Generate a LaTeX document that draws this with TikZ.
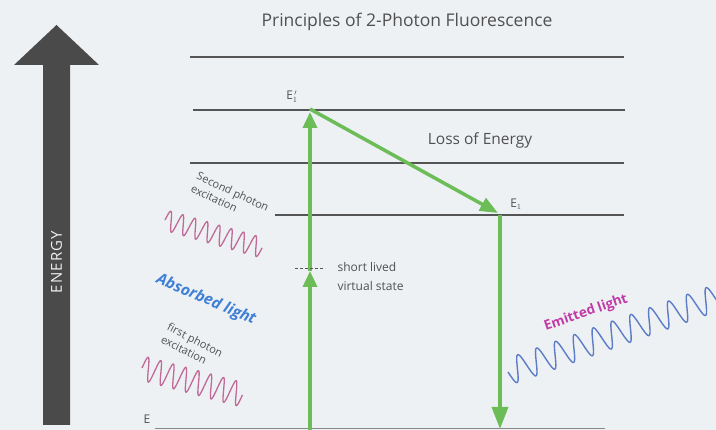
\documentclass[tikz,border=0pt]{standalone}
\usepackage{fontspec}
\setmainfont{Open Sans}
\usetikzlibrary{arrows.meta}
\definecolor{bg}{HTML}{EEF1F4}
\definecolor{arrowgray}{HTML}{4A4A4A}
\definecolor{lvl}{HTML}{555555}
\definecolor{grn}{RGB}{108,189,88}
\definecolor{pinkw}{HTML}{C06A98}
\definecolor{bluew}{HTML}{5C7CC8}
\definecolor{absblue}{HTML}{3F7FD6}
\definecolor{emitmag}{HTML}{C23AA6}
\definecolor{txtgray}{HTML}{505050}
\begin{document}
\begin{tikzpicture}[x=1pt,y=1pt,
  level/.style={draw=lvl, line width=1.4pt},
  gline/.style={draw=grn, line width=3.5pt},
  headA/.style={-{Triangle[length=16pt,width=14pt]}},
  headB/.style={-{Triangle[length=22pt,width=16pt]}},
  wavepink/.style={draw=pinkw, line width=1.3pt},
  waveblue/.style={draw=bluew, line width=1.4pt},
  small/.style={text=txtgray, font=\fontsize{11}{14}\selectfont, align=left, inner sep=1pt},
  lbl/.style={text=txtgray, font=\fontsize{12}{12}\selectfont, inner sep=0pt}
]
\useasboundingbox (0,0) rectangle (716,430);
\fill[bg] (0,0) rectangle (716,430);
\clip (0,0) rectangle (716,430);

% energy arrow
\fill[arrowgray] (43,5) -- (70,5) -- (70,365) -- (99,365) -- (56.5,405) -- (14,365) -- (43,365) -- cycle;
\node[rotate=90, text=white!88!gray, font=\fontsize{15}{15}\selectfont\addfontfeatures{LetterSpace=8}] (energy) at (56.5,168) {ENERGY};

% title
\node[text=txtgray, font=\fontsize{17.5}{18}\selectfont] (title) at (407,408) {Principles of 2-Photon Fluorescence};

% levels
\coordinate (l1a) at (190,373); \coordinate (l1b) at (624,373);
\coordinate (l2a) at (193,320); \coordinate (l2b) at (625,320);
\coordinate (l3a) at (190,267); \coordinate (l3b) at (624,267);
\coordinate (l4a) at (275,215); \coordinate (l4b) at (624,215);
\coordinate (l0a) at (155,1);   \coordinate (l0b) at (605,1);
\draw[level] (l1a) -- (l1b);
\draw[level] (l2a) -- (l2b);
\draw[level] (l3a) -- (l3b);
\draw[level] (l4a) -- (l4b);
\draw[level, line width=1pt, draw=lvl!70] (l0a) -- (l0b);

% labels
\node[lbl] (e1p) at (292,333) {E$_1^{\,\prime}$};
\node[lbl] (e1) at (516,226) {E$_1$};
\node[lbl] (e0) at (147,11) {E};
\node[text=txtgray, font=\fontsize{15.5}{16}\selectfont] (loss) at (480,290) {Loss of Energy};

% green arrows
\coordinate (g0) at (310,0);
\coordinate (vs) at (310,159);
\coordinate (top) at (310,318);
\coordinate (topl) at (310,321);
\coordinate (e1pt) at (498,217);
\coordinate (d0) at (500,215);
\coordinate (d1) at (500,1);
\draw[gline, headA] (g0) -- (vs);
\draw[gline, headA] (vs) -- (top);
\draw[gline, -{Triangle[length=18pt,width=14pt]}] (topl) -- (e1pt);
\draw[gline, headB] (d0) -- (d1);

% virtual state
\coordinate (vsa) at (295,161); \coordinate (vsb) at (325,161);
\draw[lvl, line width=1pt, dash pattern=on 3pt off 2pt] (vsa) -- (vsb);
\node[text=txtgray, font=\fontsize{12}{19}\selectfont, align=left, anchor=west] (vstext) at (334,153) {short lived\\virtual state};

% absorbed waves
\draw[wavepink, shift={(165,210)}, rotate=-16] plot[domain=0:101, samples=300, smooth] (\x, {10*sin(\x/101*8*360)});
\draw[wavepink, shift={(142,62)}, rotate=-15] plot[domain=0:104, samples=300, smooth] (\x, {12*sin(\x/104*8*360)});

\node[small, rotate=-25] (second) at (230,232) {Second photon\\excitation};
\node[small, rotate=-27] (first) at (192,84) {first photon\\excitation};
\node[text=absblue, rotate=-23, font=\fontsize{15.5}{16}\selectfont\bfseries\itshape] (absorbed) at (206,130) {Absorbed light};

% emitted
\draw[waveblue, shift={(508,58)}, rotate=19.6] plot[domain=0:240, samples=400, smooth] (\x, {-13*sin(\x*18)});
\node[text=emitmag, rotate=19, font=\fontsize{13.5}{14}\selectfont\bfseries] (emitted) at (586,117) {Emitted light};
\end{tikzpicture}
\end{document}
